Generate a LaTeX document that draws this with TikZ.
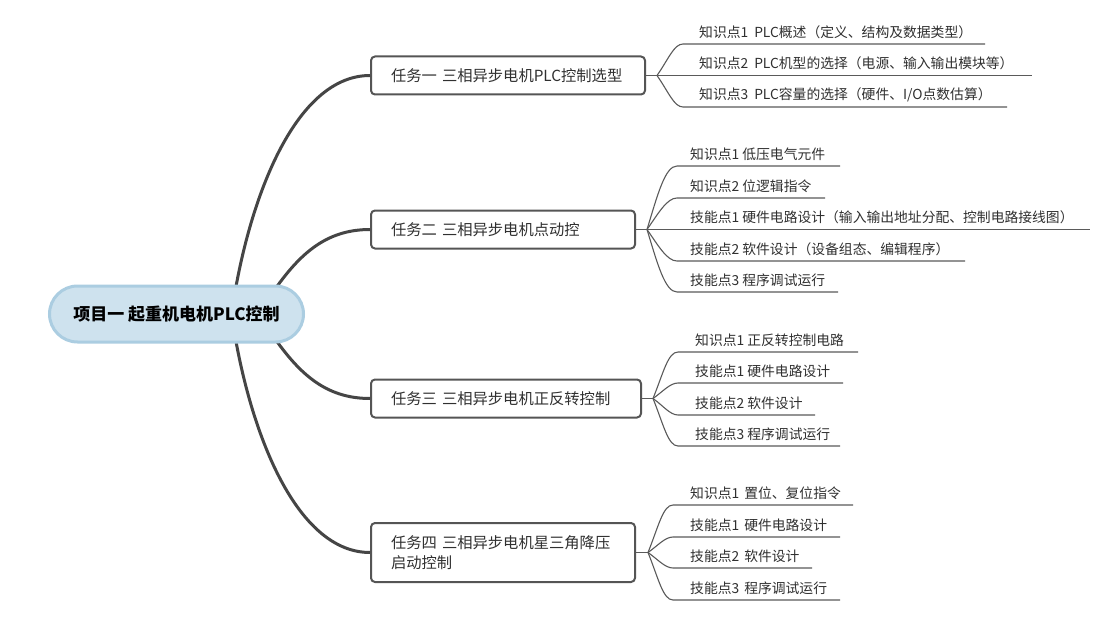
\documentclass[tikz,border=0pt]{standalone}
\usepackage{fontspec}
\setmainfont{Noto Sans CJK SC}
\begin{document}
\begin{tikzpicture}[x=1pt,y=-1pt,
  rootbox/.style={draw=rootborder, fill=rootfill, line width=3pt, rounded corners=28pt,
    minimum width=254pt, minimum height=56pt, inner sep=0pt,
    font=\fontsize{17}{20}\selectfont\bfseries, text=black},
  taskbox/.style={draw=taskborder, fill=white, line width=2pt, rounded corners=4pt,
    inner xsep=20pt, inner ysep=0pt, minimum height=38pt, align=left,
    font=\fontsize{15.3}{20}\selectfont, text=txt},
  leaf/.style={anchor=west, inner sep=0pt, font=\fontsize{13.8}{16}\selectfont, text=txt},
  rootln/.style={draw=rootline, line width=3pt},
  leafln/.style={draw=leafline, line width=1.1pt},
]
\definecolor{rootborder}{HTML}{ABCDE1}
\definecolor{rootfill}{HTML}{CEE2EE}
\definecolor{taskborder}{HTML}{555555}
\definecolor{rootline}{HTML}{454545}
\definecolor{leafline}{HTML}{5A5A5A}
\definecolor{txt}{HTML}{303030}
\useasboundingbox (0,0) rectangle (1113,631);
\fill[white] (0,0) rectangle (1113,631);

% task boxes
\node[taskbox, text width=234pt] (task1) at (508,75.5) {任务一 三相异步电机PLC控制选型};
\node[taskbox, text width=224pt] (task2) at (503,229.5) {任务二 三相异步电机点动控};
\node[taskbox, text width=230pt] (task3) at (506,398.5) {任务三 三相异步电机正反转控制};
\node[taskbox, text width=224pt, minimum height=59pt] (task4) at (503,552.5) {任务四 三相异步电机星三角降压\\启动控制};

% root connectors
\coordinate (rs1) at (235,292);
\coordinate (rs2) at (273,292);
\coordinate (rs3) at (273,336);
\coordinate (rs4) at (235,336);
\draw[rootln] (rs1) to[out=80,in=180,out distance=110pt,in distance=70pt] (task1.west);
\draw[rootln] (rs2) to[out=55,in=180] (task2.west);
\draw[rootln] (rs3) to[out=-55,in=180] (task3.west);
\draw[rootln] (rs4) to[out=-80,in=180,out distance=110pt,in distance=70pt] (task4.west);

% root
\node[rootbox] (root) at (176.5,314) {项目一 起重机电机PLC控制};

% ---------- task 1 leaves
\coordinate (t1b) at (657,75.5);
\coordinate (t1c1s) at (683,44);   \coordinate (t1c1e) at (985,44);
\coordinate (t1c2e) at (1032,75.5);
\coordinate (t1c3s) at (683,107);  \coordinate (t1c3e) at (1007,107);
\draw[leafln] (task1.east) -- (t1b) -- (t1c2e);
\draw[leafln] (t1b) to[out=55,in=180,out distance=20pt,in distance=9pt] (t1c1s) -- (t1c1e);
\draw[leafln] (t1b) to[out=-55,in=180,out distance=20pt,in distance=9pt] (t1c3s) -- (t1c3e);
\node[leaf] (t1l1) at (699,32) {知识点1\hspace{6pt}PLC概述（定义、结构及数据类型）};
\node[leaf] (t1l2) at (699,63.5) {知识点2\hspace{6pt}PLC机型的选择（电源、输入输出模块等）};
\node[leaf] (t1l3) at (699,95) {知识点3\hspace{6pt}PLC容量的选择（硬件、I/O点数估算）};

% ---------- task 2 leaves
\coordinate (t2b) at (647,229.5);
\coordinate (t2c1s) at (677,166);  \coordinate (t2c1e) at (840,166);
\coordinate (t2c2s) at (677,198);  \coordinate (t2c2e) at (825,198);
\coordinate (t2c3e) at (1090,229.5);
\coordinate (t2c4s) at (677,261);  \coordinate (t2c4e) at (965,261);
\coordinate (t2c5s) at (677,292);  \coordinate (t2c5e) at (838,292);
\draw[leafln] (task2.east) -- (t2b) -- (t2c3e);
\draw[leafln] (t2b) to[out=73,in=180,out distance=36pt,in distance=12pt] (t2c1s) -- (t2c1e);
\draw[leafln] (t2b) to[out=55,in=180,out distance=20pt,in distance=10pt] (t2c2s) -- (t2c2e);
\draw[leafln] (t2b) to[out=-55,in=180,out distance=20pt,in distance=10pt] (t2c4s) -- (t2c4e);
\draw[leafln] (t2b) to[out=-73,in=180,out distance=36pt,in distance=12pt] (t2c5s) -- (t2c5e);
\node[leaf] (t2l1) at (690,154) {知识点1 低压电气元件};
\node[leaf] (t2l2) at (690,186) {知识点2 位逻辑指令};
\node[leaf] (t2l3) at (690,217.5) {技能点1 硬件电路设计（输入输出地址分配、控制电路接线图）};
\node[leaf] (t2l4) at (690,249) {技能点2 软件设计（设备组态、编辑程序）};
\node[leaf] (t2l5) at (690,280) {技能点3 程序调试运行};

% ---------- task 3 leaves
\coordinate (t3b) at (653,398.5);
\coordinate (t3c1s) at (678,352);  \coordinate (t3c1e) at (858,352);
\coordinate (t3c2s) at (678,383);  \coordinate (t3c2e) at (843,383);
\coordinate (t3c3s) at (678,415);  \coordinate (t3c3e) at (815,415);
\coordinate (t3c4s) at (678,446);  \coordinate (t3c4e) at (840,446);
\draw[leafln] (task3.east) -- (t3b);
\draw[leafln] (t3b) to[out=68,in=180,out distance=28pt,in distance=10pt] (t3c1s) -- (t3c1e);
\draw[leafln] (t3b) to[out=35,in=180,out distance=12pt,in distance=8pt] (t3c2s) -- (t3c2e);
\draw[leafln] (t3b) to[out=-35,in=180,out distance=12pt,in distance=8pt] (t3c3s) -- (t3c3e);
\draw[leafln] (t3b) to[out=-68,in=180,out distance=28pt,in distance=10pt] (t3c4s) -- (t3c4e);
\node[leaf] (t3l1) at (695,340) {知识点1 正反转控制电路};
\node[leaf] (t3l2) at (695,371) {技能点1 硬件电路设计};
\node[leaf] (t3l3) at (695,403) {技能点2 软件设计};
\node[leaf] (t3l4) at (695,434) {技能点3 程序调试运行};

% ---------- task 4 leaves
\coordinate (t4b) at (648,552.5);
\coordinate (t4c1s) at (673,505);  \coordinate (t4c1e) at (853,505);
\coordinate (t4c2s) at (673,537);  \coordinate (t4c2e) at (840,537);
\coordinate (t4c3s) at (673,568);  \coordinate (t4c3e) at (812,568);
\coordinate (t4c4s) at (673,600);  \coordinate (t4c4e) at (840,600);
\draw[leafln] (task4.east) -- (t4b);
\draw[leafln] (t4b) to[out=68,in=180,out distance=28pt,in distance=10pt] (t4c1s) -- (t4c1e);
\draw[leafln] (t4b) to[out=35,in=180,out distance=12pt,in distance=8pt] (t4c2s) -- (t4c2e);
\draw[leafln] (t4b) to[out=-35,in=180,out distance=12pt,in distance=8pt] (t4c3s) -- (t4c3e);
\draw[leafln] (t4b) to[out=-68,in=180,out distance=28pt,in distance=10pt] (t4c4s) -- (t4c4e);
\node[leaf] (t4l1) at (690,493) {知识点1\hspace{5pt}置位、复位指令};
\node[leaf] (t4l2) at (690,525) {技能点1\hspace{5pt}硬件电路设计};
\node[leaf] (t4l3) at (690,556) {技能点2\hspace{5pt}软件设计};
\node[leaf] (t4l4) at (690,588) {技能点3\hspace{5pt}程序调试运行};
\end{tikzpicture}
\end{document}
